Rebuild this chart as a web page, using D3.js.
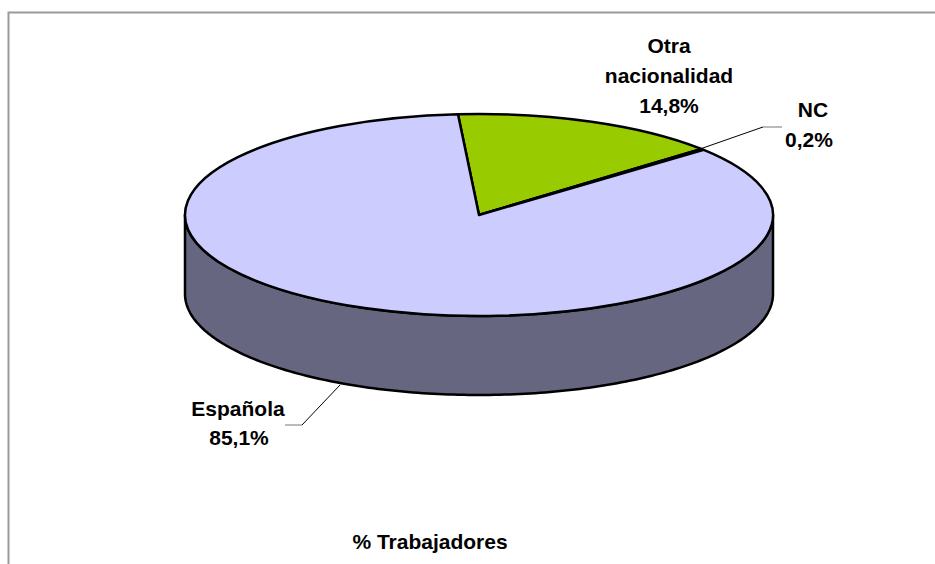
<!DOCTYPE html>
<html>
<head>
<meta charset="utf-8">
<script src="https://cdn.jsdelivr.net/npm/d3@7"></script>
<style>
  html, body { margin: 0; padding: 0; background: #fff; }
  svg { display: block; }
  text { font-family: "Liberation Sans", Arial, sans-serif; font-weight: bold; font-size: 21px; fill: #000; text-anchor: middle; }
</style>
</head>
<body>
<div id="chart"></div>
<script>
// data
var categories = ["Otra nacionalidad", "NC", "Española"];
var values = [14.8, 0.2, 85.1];
var valueLabels = ["14,8%", "0,2%", "85,1%"];
var colors = ["#99CC00", "#000000", "#CCCCFF"];

var width = 935, height = 564;
var cx = 479, cy = 215, rx = 294, ry = 101, depth = 79;
var startAngle = -4.1 * Math.PI / 180;

var svg = d3.select("#chart").append("svg")
  .attr("width", width)
  .attr("height", height);

// frame, only top and left are visible
svg.append("path")
  .attr("d", "M8.5," + height + "V12.5H" + width)
  .attr("fill", "none")
  .attr("stroke", "#999")
  .attr("stroke-width", 2);

// side wall of the disc
var sideAngles = d3.range(-90, 90.5, 1).map(function(d) { return d * Math.PI / 180; });
var side = d3.area()
  .x(function(a) { return cx + rx * Math.sin(a); })
  .y0(function(a) { return cy + ry * Math.cos(a); })
  .y1(function(a) { return cy + ry * Math.cos(a) + depth; });

svg.append("path")
  .datum(sideAngles)
  .attr("d", side)
  .attr("fill", "#666680")
  .attr("stroke", "#000")
  .attr("stroke-width", 2.5);

// top of the disc, round pie squashed into an ellipse
var pie = d3.pie().sort(null).startAngle(startAngle).endAngle(startAngle + 2 * Math.PI);
var arc = d3.arc().innerRadius(0).outerRadius(rx);

svg.append("g")
  .attr("transform", "translate(" + cx + "," + cy + ") scale(1," + (ry / rx) + ")")
  .selectAll("path")
  .data(pie(values))
  .enter()
  .append("path")
  .attr("d", arc)
  .attr("fill", function(d, i) { return colors[i]; })
  .attr("stroke", "#000")
  .attr("stroke-width", 2.5)
  .attr("stroke-linejoin", "round")
  .attr("vector-effect", "non-scaling-stroke");

// leader lines
var leaders = [
  { diag: [[700, 149], [763, 127]], flat: [[763, 127], [782, 127]] },
  { diag: [[340, 385], [302, 425]], flat: [[302, 425], [285, 425]] }
];
var line = d3.line();
leaders.forEach(function(l) {
  svg.append("path").attr("d", line(l.flat)).attr("fill", "none").attr("stroke", "#777").attr("stroke-width", 1);
  svg.append("path").attr("d", line(l.diag)).attr("fill", "none").attr("stroke", "#000").attr("stroke-width", 1);
});

// labels
function label(lines, x, ys) {
  lines.forEach(function(t, i) {
    svg.append("text").attr("x", x).attr("y", ys[i]).text(t);
  });
}
label(["Otra", "nacionalidad", valueLabels[0]], 669, [53, 83, 113]);
label([categories[1]], 813, [117]);
label([valueLabels[1]], 809, [147]);
label([categories[2]], 238, [416]);
label([valueLabels[2]], 239, [445]);
label(["% Trabajadores"], 430, [549]);
</script>
</body>
</html>
